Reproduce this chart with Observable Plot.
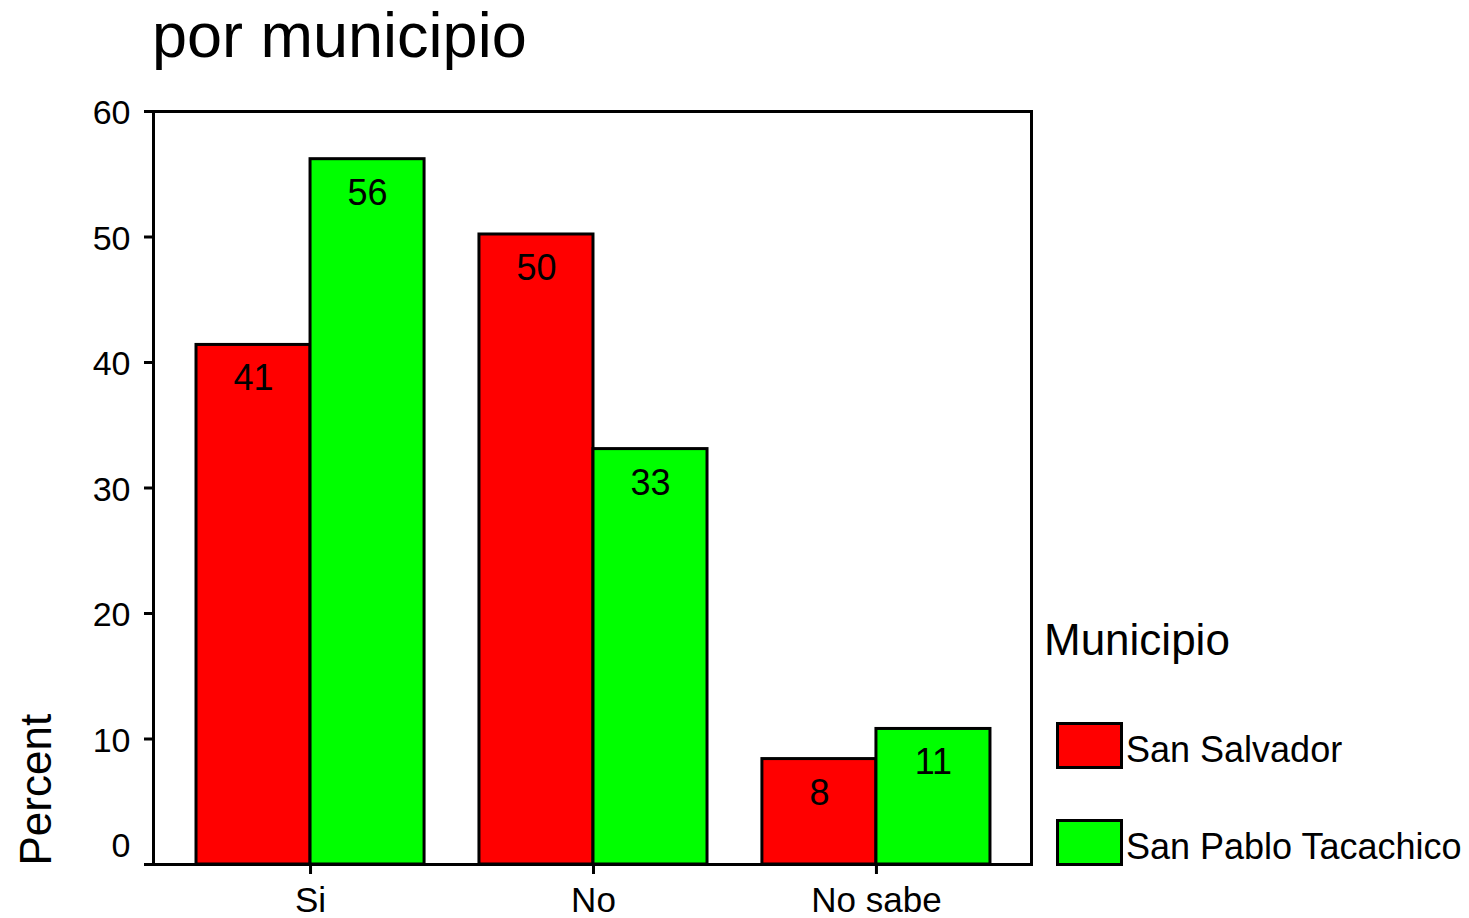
<!DOCTYPE html>
<html>
<head>
<meta charset="utf-8">
<script src="https://cdn.jsdelivr.net/npm/d3@7"></script>
<script src="https://cdn.jsdelivr.net/npm/@observablehq/plot@0.6"></script>
<style>
  html, body { margin: 0; padding: 0; background: #fff; }
  #wrap { position: relative; width: 1469px; height: 918px; overflow: hidden;
          font-family: "Liberation Sans", Arial, Helvetica, sans-serif; color: #000; }
  #wrap svg { position: absolute; left: 0; top: 0; }
  .abs { position: absolute; white-space: nowrap; line-height: 1; }
  .sw { position: absolute; box-sizing: border-box; border: 3px solid #000; }
</style>
</head>
<body>
<div id="wrap"></div>
<script>
const title = "por municipio";
const yLabel = "Percent";
const legendTitle = "Municipio";
const categories = ["Si", "No", "No sabe"];
const municipios = ["San Salvador", "San Pablo Tacachico"];
const sanSalvador = [41.4, 50.2, 8.4];
const sanPablo = [56.2, 33.1, 10.8];
const colors = ["#ff0000", "#00ff00"];
const yTicks = [0, 10, 20, 30, 40, 50, 60];

const series = [sanSalvador, sanPablo];
const rows = categories.flatMap((c, i) =>
  municipios.map((m, k) => ({cat: c, i, k, m, v: series[k][i]})));

const W = 0.403; // half-group width in category units
const FONT = "'Liberation Sans', Arial, Helvetica, sans-serif";

const chart = Plot.plot({
  width: 1469, height: 918,
  marginLeft: 153, marginRight: 438, marginTop: 111, marginBottom: 54,
  style: {fontFamily: FONT, background: "transparent", color: "#000"},
  x: {domain: [-0.555, 2.548], axis: null},
  y: {domain: [0, 60], axis: null},
  color: {domain: municipios, range: colors},
  marks: [
    Plot.rectY(rows, {
      x1: d => d.i + (d.k - 1) * W,
      x2: d => d.i + d.k * W,
      y1: 0, y2: "v",
      fill: "m", stroke: "#000", strokeWidth: 3
    }),
    Plot.text(rows, {
      x: d => d.i + (d.k - 0.5) * W,
      y: "v", text: d => String(Math.round(d.v)),
      dy: 34, fontSize: 36, fill: "#000"
    }),
    Plot.frame({stroke: "#000", strokeWidth: 3}),
    Plot.axisY({ticks: yTicks, tickSize: 9, tickFormat: () => "", strokeWidth: 3, label: null}),
    Plot.axisY({ticks: yTicks.filter(t => t !== 0), tickSize: 0, tickPadding: 23, fontSize: 34, label: null, dy: 2}),
    Plot.axisY({ticks: [0], tickSize: 0, tickPadding: 23, fontSize: 34, label: null, dy: -18}),
    Plot.axisX({ticks: d3.range(categories.length), tickFormat: i => categories[i],
                tickSize: 10, tickPadding: 13, fontSize: 35, strokeWidth: 3, label: null}),
    Plot.text([yLabel], {
      frameAnchor: "bottom-left", rotate: -90, textAnchor: "start", lineAnchor: "bottom",
      dx: -103, dy: 1, fontSize: 44, fill: "#000"
    })
  ]
});

const wrap = document.getElementById("wrap");
wrap.appendChild(chart);

const t = document.createElement("div");
t.className = "abs";
t.style.cssText = "left:152px; top:4px; font-size:63px;";
t.textContent = title;
wrap.appendChild(t);

const lt = document.createElement("div");
lt.className = "abs";
lt.style.cssText = "left:1044px; top:618px; font-size:44px;";
lt.textContent = legendTitle;
wrap.appendChild(lt);

const swTops = [722, 819];
municipios.forEach((m, k) => {
  const sw = document.createElement("div");
  sw.className = "sw";
  sw.style.cssText = `left:1056px; top:${swTops[k]}px; width:67px; height:47px; background:${colors[k]};`;
  wrap.appendChild(sw);
  const lab = document.createElement("div");
  lab.className = "abs";
  lab.style.cssText = `left:1126px; top:${swTops[k] + 10}px; font-size:36px;`;
  lab.textContent = m;
  wrap.appendChild(lab);
});
</script>
</body>
</html>
